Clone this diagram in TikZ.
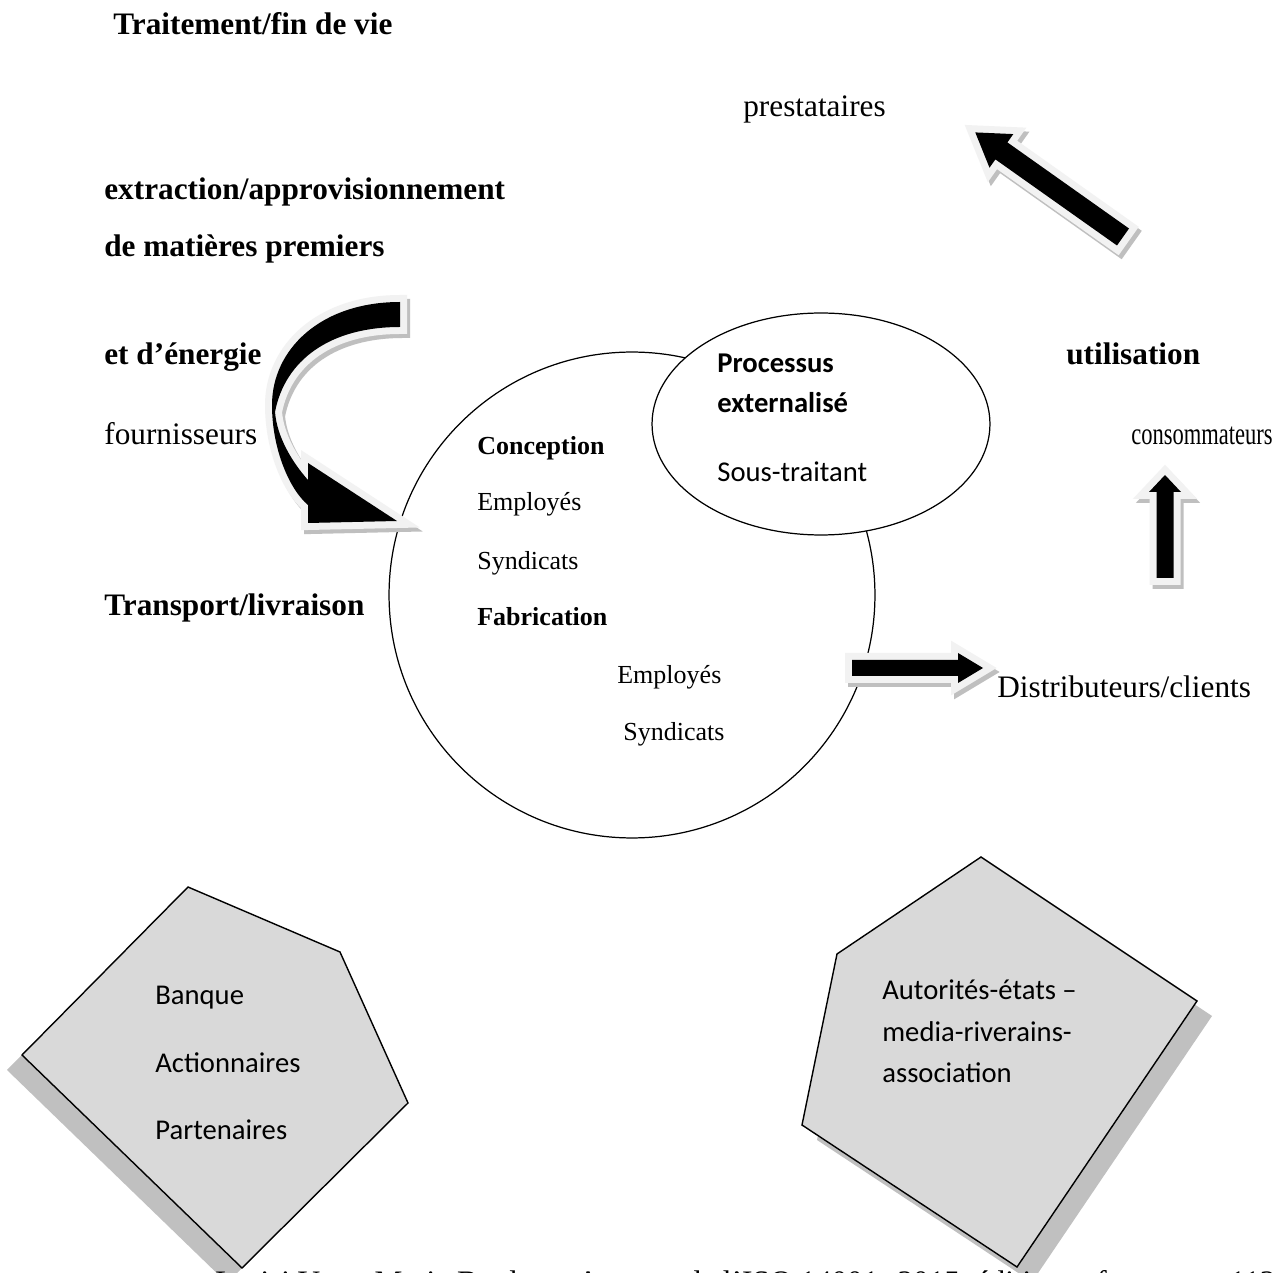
\documentclass[tikz,border=0pt]{standalone}
\usepackage{fontspec}
\setmainfont{Liberation Serif}
\newfontfamily\calibri{Carlito}
\usetikzlibrary{shapes.geometric}
\definecolor{shadowgray}{HTML}{BFBFBF}
\definecolor{lightout}{HTML}{F2F2F2}
\definecolor{pentfill}{HTML}{D9D9D9}
\definecolor{pentshadow}{HTML}{C0C0C0}
\newcommand{\arrowpoly}[4]{(0,-#4) -- ({#1-#2},-#4) -- ({#1-#2},-#3) -- (#1,0) -- ({#1-#2},#3) -- ({#1-#2},#4) -- (0,#4) -- cycle}
% x y angle L H W w
\newcommand{\blkarrow}[7]{%
  \begin{scope}[shift={({#1+3},{#2+4})},rotate=#3]
    \path[fill=shadowgray,draw=shadowgray,line width=0.28cm,line join=miter] \arrowpoly{#4}{#5}{#6}{#7};
  \end{scope}
  \begin{scope}[shift={(#1,#2)},rotate=#3]
    \path[draw=lightout,line width=0.28cm,line join=miter] \arrowpoly{#4}{#5}{#6}{#7};
    \path[fill=black] \arrowpoly{#4}{#5}{#6}{#7};
  \end{scope}}
\newcommand{\curvedpath}{(400,302) .. controls (320,302) and (272,350) .. (272,405) .. controls (272,450) and (290,490) .. (308,505) -- (308,523) -- (397,521) -- (308,463) -- (308,480) .. controls (292,462) and (277,437) .. (275,412) .. controls (285,360) and (330,327) .. (400,327) -- cycle}
\tikzset{
  big/.style={font=\fontsize{17.8}{20}\selectfont, anchor=base west, inner sep=0pt},
  bigb/.style={big, font=\fontsize{17.8}{20}\selectfont\bfseries},
  small/.style={font=\fontsize{14.8}{17}\selectfont, anchor=base west, inner sep=0pt},
  smallb/.style={small, font=\fontsize{14.8}{17}\selectfont\bfseries},
  cal/.style={font=\calibri\fontsize{16.3}{19}\selectfont, anchor=base west, inner sep=0pt},
  calb/.style={cal, font=\calibri\fontsize{16.3}{19}\selectfont\bfseries},
  pent/.style={fill=pentfill, draw=black, line width=0.8pt, line join=miter},
}
\begin{document}
\begin{tikzpicture}[x=0.02cm,y=-0.02cm]
\useasboundingbox (0,0) rectangle (1279,1273);
\clip (0,0) rectangle (1279,1273);
\fill[white] (0,0) rectangle (1279,1273);

% main circle and outsourced-process ellipse
\node[circle, draw, line width=0.7pt, minimum size=9.72cm, inner sep=0pt] (org) at (632,595) {};
\node[ellipse, draw, fill=white, line width=0.7pt, minimum width=6.76cm, minimum height=4.44cm, inner sep=0pt] (ext) at (821,424) {};

% outer labels
\node[bigb] (fin) at (113,35) {Traitement/fin de vie};
\node[big] (prest) at (743,117) {prestataires};
\node[bigb] (extr) at (104,200) {extraction/approvisionnement};
\node[bigb] (mat) at (104,257) {de matières premiers};
\node[bigb] (ener) at (104,365) {et d’énergie};
\node[big] (fourn) at (104,445) {fournisseurs};
\node[bigb] (transp) at (104,616) {Transport/livraison};
\node[bigb] (util) at (1066,365) {utilisation};
\node[big, xscale=0.72] (cons) at (1131,445) {consommateurs};
\node[big] (distr) at (997,698) {Distributeurs/clients};

% circle texts
\node[smallb] (conc) at (477,455) {Conception};
\node[small] (emp1) at (477,511) {Employés};
\node[small] (syn1) at (477,570) {Syndicats};
\node[smallb] (fab) at (477,626) {Fabrication};
\node[small] (emp2) at (617,684) {Employés};
\node[small] (syn2) at (623,741) {Syndicats};

% ellipse texts
\node[calb] (proc) at (717,373) {Processus};
\node[calb] (exter) at (717,413) {externalisé};
\node[cal] (sous) at (717,482) {Sous-traitant};

% block arrows
\blkarrow{1123}{237}{144.7}{181}{32}{20.6}{10.4}
\blkarrow{852}{668}{0}{131}{25}{15}{8}
\blkarrow{1165}{578}{90}{103}{17}{16}{8.5}

% curved arrow
\begin{scope}[shift={(3,4)}]
  \path[fill=shadowgray,draw=shadowgray,line width=0.28cm,line join=miter] \curvedpath;
\end{scope}
\path[draw=lightout,line width=0.28cm,line join=miter] \curvedpath;
\path[fill=black] \curvedpath;

% pentagons
\fill[pentshadow] (173,902) -- (325,967) -- (393,1118) -- (227,1283) -- (7,1070) -- cycle;
\path[pent] (188,887) -- (340,952) -- (408,1103) -- (242,1268) -- (22,1055) -- cycle;
\fill[pentshadow] (996,872) -- (1212,1016) -- (1032,1282) -- (817,1140) -- (852,969) -- cycle;
\path[pent] (981,857) -- (1197,1001) -- (1017,1267) -- (802,1125) -- (837,954) -- cycle;

\node[cal] (banq) at (155,1004) {Banque};
\node[cal] (act) at (155,1072) {Actionnaires};
\node[cal] (part) at (155,1139) {Partenaires};
\node[cal] (aut) at (882,999) {Autorités-états –};
\node[cal] (med) at (882,1041) {media-riverains-};
\node[cal] (ass) at (882,1082) {association};

% source caption (cut at the bottom edge)
\node[big] (src) at (215,1292) {Lasisi Yves, Marie Bouleau, Apports de l’ISO 14001: 2015, éditions afnor, page 112};
\end{tikzpicture}
\end{document}
